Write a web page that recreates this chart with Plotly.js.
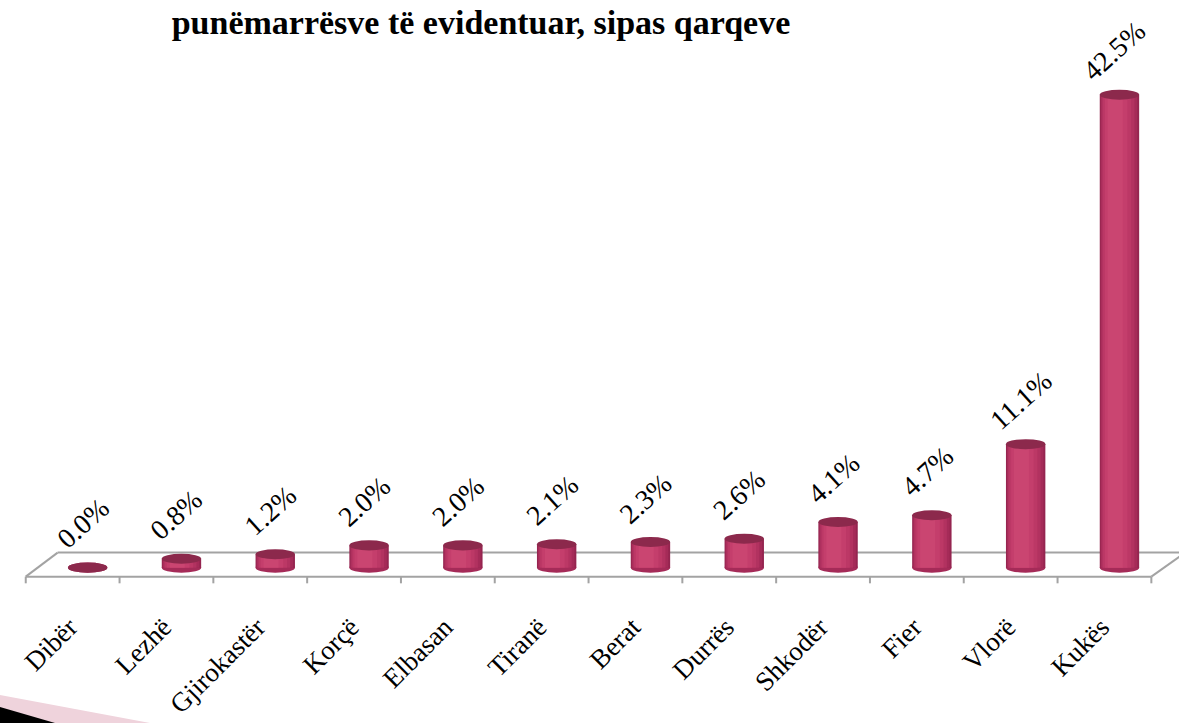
<!DOCTYPE html>
<html>
<head>
<meta charset="utf-8">
<script src="https://cdn.plot.ly/plotly-3.0.1.min.js"></script>
<style>html,body{margin:0;padding:0;background:#fff;}#chart{width:1179px;height:723px;}</style>
</head>
<body>
<div id="chart"></div>
<script>
const categories = ["Dibër","Lezhë","Gjirokastër","Korçë","Elbasan","Tiranë","Berat","Durrës","Shkodër","Fier","Vlorë","Kukës"];
const values = [0.0, 0.8, 1.2, 2.0, 2.0, 2.1, 2.3, 2.6, 4.1, 4.7, 11.1, 42.5];
const valueLabels = values.map(v => v.toFixed(1) + "%");
const titleText = "punëmarrësve të evidentuar, sipas qarqeve";

const W = 1179, H = 723;
const L = 22, T = 67, PW = 1157, PH = 534;
const xr = [-0.7, -0.7 + PW / 93.8];
const yr = [-3, 45];
const e = 0.45; // ellipse half-height in data units
const serif = 'Liberation Serif, Times New Roman, serif';

const idx = categories.map((c, i) => i);
function barTrace(width, offset, color) {
  return {type: 'bar', x: categories, y: values, width: width, offset: offset,
    marker: {color: color, line: {width: 0}}, hoverinfo: 'skip', showlegend: false};
}
const traces = [
  barTrace(0.42, -0.21, '#952550'),
  barTrace(0.39, -0.20, '#a52b58'),
  barTrace(0.35, -0.19, '#b23260'),
  barTrace(0.30, -0.175, '#bc3866'),
  barTrace(0.24, -0.155, '#c43e6c'),
  barTrace(0.16, -0.125, '#ca4571')
];

const shapes = [];
const gray = '#a3a3a3';
// floor
const yFront = -0.81, yBack = 1.35;
const xFrontL = -0.66, xFrontR = 11.34, xBackL = -0.32, xBackR = 11.70;
shapes.push({type: 'line', xref: 'x', yref: 'y', x0: xFrontL, x1: xFrontR, y0: yFront, y1: yFront, line: {color: gray, width: 2}, layer: 'below'});
shapes.push({type: 'line', xref: 'x', yref: 'y', x0: xBackL, x1: xBackR, y0: yBack, y1: yBack, line: {color: gray, width: 2}, layer: 'below'});
shapes.push({type: 'line', xref: 'x', yref: 'y', x0: xFrontL, x1: xBackL, y0: yFront, y1: yBack, line: {color: gray, width: 2}, layer: 'below'});
shapes.push({type: 'line', xref: 'x', yref: 'y', x0: xFrontR, x1: xBackR, y0: yFront, y1: yBack, line: {color: gray, width: 2}, layer: 'below'});
for (let k = 0; k <= categories.length; k++) {
  const xx = k - 0.66;
  shapes.push({type: 'line', xref: 'x', yref: 'y', x0: xx, x1: xx, y0: yFront, y1: yFront - 0.6, line: {color: gray, width: 2}, layer: 'below'});
}
// cylinder ends
idx.forEach(i => {
  const v = values[i];
  shapes.push({type: 'circle', xref: 'x', yref: 'y', x0: i - 0.21, x1: i + 0.21, y0: -e, y1: e,
    fillcolor: '#a52b58', line: {width: 0}, layer: 'below'});
  shapes.push({type: 'circle', xref: 'x', yref: 'y', x0: i - 0.21, x1: i + 0.21, y0: v - e, y1: v + e,
    fillcolor: '#8c294c', line: {width: 0}, layer: 'above'});
});
// slide decoration bottom-left
function px2paperX(px) { return (px - L) / PW; }
function px2paperY(py) { return (T + PH - py) / PH; }
shapes.push({type: 'path', xref: 'paper', yref: 'paper',
  path: `M ${px2paperX(0)} ${px2paperY(695)} L ${px2paperX(150)} ${px2paperY(723)} L ${px2paperX(0)} ${px2paperY(723)} Z`,
  fillcolor: '#efd3dc', line: {width: 0}});
shapes.push({type: 'path', xref: 'paper', yref: 'paper',
  path: `M ${px2paperX(0)} ${px2paperY(707)} L ${px2paperX(55)} ${px2paperY(723)} L ${px2paperX(0)} ${px2paperY(723)} Z`,
  fillcolor: '#000000', line: {width: 0}});

const annotations = idx.map(i => ({
  x: categories[i], y: values[i], xref: 'x', yref: 'y', text: valueLabels[i], showarrow: false,
  textangle: -42, yshift: 44, xshift: -5,
  font: {family: serif, size: 28, color: '#000'}
}));

const layout = {
  width: W, height: H,
  margin: {l: L, r: 0, t: T, b: H - T - PH, pad: 0},
  paper_bgcolor: '#ffffff', plot_bgcolor: 'rgba(0,0,0,0)',
  barmode: 'overlay',
  title: {text: '<b>' + titleText + '</b>', x: 481 / W, xanchor: 'center', y: 1 - 22 / H, yanchor: 'middle',
    font: {family: serif, size: 34, color: '#000'}},
  xaxis: {range: xr, showgrid: false, zeroline: false, showline: false, ticks: '',
    tickangle: -45, ticklabelshift: -18, ticklabelstandoff: 4,
    tickfont: {family: serif, size: 27, color: '#000'}},
  yaxis: {range: yr, visible: false, showgrid: false, zeroline: false},
  shapes: shapes,
  annotations: annotations,
  showlegend: false
};

Plotly.newPlot('chart', traces, layout, {displayModeBar: false, staticPlot: true});
</script>
</body>
</html>
